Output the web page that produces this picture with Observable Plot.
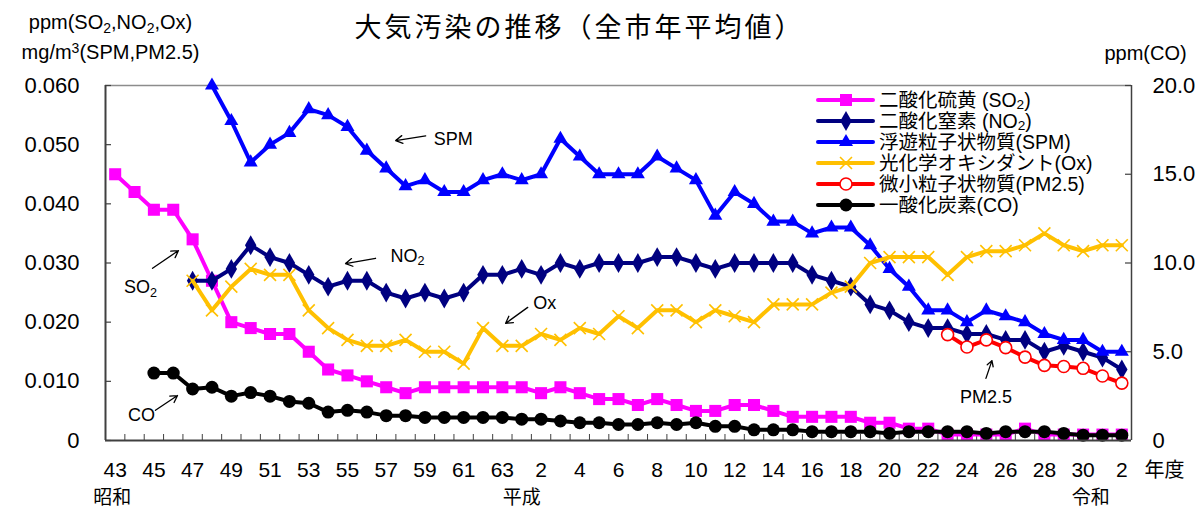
<!DOCTYPE html>
<html><head><meta charset="utf-8">
<script src="https://cdn.jsdelivr.net/npm/d3@7"></script>
<script src="https://cdn.jsdelivr.net/npm/@observablehq/plot@0.6"></script>
<style>body{margin:0;background:#fff}#chart{width:1202px;height:508px}</style>
</head><body><div id="chart"></div>
<script>
// ---- data ----
const yearLabels = ["43","44","45","46","47","48","49","50","51","52","53","54","55","56","57","58","59","60","61","62","63",
  "元","2","3","4","5","6","7","8","9","10","11","12","13","14","15","16","17","18","19","20","21","22","23","24","25","26","27","28","29","30",
  "元","2"];
const eraLabels = [{text:"昭和", i:-0.15}, {text:"平成", i:21}, {text:"令和", i:50.4}];
const unitLabel = "年度";

// start = index into yearLabels of the first value
const so2 = [0.045,0.042,0.039,0.039,0.034,0.027,0.020,0.019,0.018,0.018,
  0.015,0.012,0.011,0.010,0.009,0.008,0.009,0.009,0.009,0.009,
  0.009,0.009,0.008,0.009,0.008,0.007,0.007,0.006,0.007,0.006,
  0.005,0.005,0.006,0.006,0.005,0.004,0.004,0.004,0.004,0.003,
  0.003,0.002,0.002,0.001,0.001,0.001,0.001,0.002,0.001,0.001,
  0.001,0.001,0.001];
const so2Start = 0;
const no2 = [0.027,0.027,0.029,0.033,0.031,0.030,
  0.028,0.026,0.027,0.027,0.025,0.024,0.025,0.024,0.025,0.028,
  0.028,0.029,0.028,0.030,0.029,0.030,0.030,0.030,0.031,0.031,
  0.030,0.029,0.030,0.030,0.030,0.030,0.028,0.027,0.026,0.023,
  0.022,0.020,0.019,0.019,0.018,0.018,0.017,0.017,0.015,0.016,
  0.015,0.014,0.012];
const no2Start = 4;
const spm = [0.060,0.054,0.047,0.050,0.052,
  0.056,0.055,0.053,0.049,0.046,0.043,0.044,0.042,0.042,0.044,
  0.045,0.044,0.045,0.051,0.048,0.045,0.045,0.045,0.048,0.046,
  0.044,0.038,0.042,0.040,0.037,0.037,0.035,0.036,0.036,0.033,
  0.029,0.026,0.022,0.022,0.020,0.022,0.021,0.020,0.018,0.017,
  0.017,0.015,0.015];
const spmStart = 5;
const ox = [0.027,0.022,0.026,0.029,0.028,0.028,
  0.022,0.019,0.017,0.016,0.016,0.017,0.015,0.015,0.013,0.019,
  0.016,0.016,0.018,0.017,0.019,0.018,0.021,0.019,0.022,0.022,
  0.020,0.022,0.021,0.020,0.023,0.023,0.023,0.025,0.026,0.030,
  0.031,0.031,0.031,0.028,0.031,0.032,0.032,0.033,0.035,0.033,
  0.032,0.033,0.033];
const oxStart = 4;
const pm25 = [0.0179,0.0158,0.0170,0.0157,0.0141,0.0127,0.0125,0.0122,0.0109,0.0097];
const pm25Start = 43;
const co = [3.8,3.8,2.9,3.0,2.5,2.7,2.5,2.2,
  2.1,1.6,1.7,1.6,1.4,1.4,1.3,1.3,1.3,1.3,
  1.3,1.2,1.2,1.1,1.0,1.0,0.9,0.9,1.0,0.9,
  1.0,0.8,0.8,0.6,0.6,0.6,0.5,0.5,0.5,0.5,
  0.4,0.5,0.5,0.5,0.5,0.4,0.5,0.5,0.5,0.4,
  0.3,0.3,0.3];
const coStart = 2;

const seriesNames = ["二酸化硫黄 (SO₂)","二酸化窒素 (NO₂)","浮遊粒子状物質(SPM)","光化学オキシダント(Ox)","微小粒子状物質(PM2.5)","一酸化炭素(CO)"];
const leftTicks = [0,0.01,0.02,0.03,0.04,0.05,0.06];
const rightTicks = [0,5,10,15,20];   // ppm(CO)
const leftMax = 0.06, rightMax = 20;

const titleText = "大気汚染の推移（全市年平均値）";
const leftTitle1 = "ppm(SO₂,NO₂,Ox)";
const leftTitle2 = "mg/m³(SPM,PM2.5)";
const rightTitle = "ppm(CO)";

// annotations in data space (x index, left-axis value)
const notes = [
  {text:"SPM", x:17.46, y:0.0510, ax1:16.04, ay1:0.0515, ax2:14.49, ay2:0.0507},
  {text:"NO₂", x:15.1, y:0.0312, ax1:13.45, ay1:0.0308, ax2:11.9, ay2:0.0299},
  {text:"SO₂", x:1.31, y:0.0259, ax1:1.93, ay1:0.0291, ax2:3.27, ay2:0.0321},
  {text:"CO", x:1.36, y:0.0042, ax1:2.08, ay1:0.0051, ax2:3.22, ay2:0.0076},
  {text:"Ox", x:22.19, y:0.0232, ax1:21.31, ay1:0.0225, ax2:20.17, ay2:0.0198},
  {text:"PM2.5", x:44.98, y:0.0073, ax1:44.98, ay1:0.0105, ax2:45.29, ay2:0.0135}
];

// ---- build ----
const coFactor = leftMax / rightMax;
const W = 1202, H = 508, mL = 105, mR = 71, mT = 85, mB = 68;
const frameW = W - mL - mR, frameH = H - mT - mB;
const FONT = '"Liberation Sans", Arial, "Noto Sans CJK JP", sans-serif';

const defs = [
  {values: so2, start: so2Start, color:"#FF00FF", symbol:"square", r:6.8, fill:"#FF00FF", stroke:"none", sw:0},
  {values: no2, start: no2Start, color:"#000080", symbol:"diamond", r:6, fill:"#000080", stroke:"none", sw:0},
  {values: spm, start: spmStart, color:"#0000FF", symbol:"triangle", r:5.2, fill:"#0000FF", stroke:"none", sw:0},
  {values: ox, start: oxStart, color:"#FFC000", symbol:"times", r:5.5, fill:"none", stroke:"#FFC000", sw:1.6},
  {values: pm25, start: pm25Start, color:"#FF0000", symbol:"circle", r:6, fill:"white", stroke:"#FF0000", sw:1.6},
  {values: co, start: coStart, color:"#000000", symbol:"circle", r:6.5, fill:"#000000", stroke:"none", sw:0, scale: coFactor}
];

const seriesMarks = [];
defs.forEach(d => {
  const data = d.values.map((v, k) => ({i: d.start + k, v: d.scale ? v * d.scale : v}));
  seriesMarks.push(Plot.line(data, {x:"i", y:"v", stroke:d.color, strokeWidth:4, strokeLinejoin:"round"}));
  seriesMarks.push(Plot.dot(data, {x:"i", y:"v", symbol:d.symbol, r:d.r, fill:d.fill, stroke:d.stroke, strokeWidth:d.sw}));
});

const evenIdx = yearLabels.map((_, i) => i).filter(i => i % 2 === 0);
const boundaries = yearLabels.slice(1).map((_, i) => i + 0.5);

const plot = Plot.plot({
  width: W, height: H,
  marginLeft: mL, marginRight: mR, marginTop: mT, marginBottom: mB,
  x: {domain: [-0.5, yearLabels.length - 0.5]},
  y: {domain: [0, leftMax]},
  style: {fontFamily: FONT, background: "white", color: "black"},
  marks: [
    // frame
    Plot.ruleY([leftMax], {stroke:"#8c8c8c", strokeWidth:1.5}),
    Plot.ruleX([-0.5], {stroke:"#404040", strokeWidth:2}),
    Plot.ruleX([yearLabels.length - 0.5], {stroke:"#404040", strokeWidth:1.5}),
    // inward ticks
    Plot.tickY(leftTicks, {y: d => d, insetRight: frameW - 6, stroke:"#404040", strokeWidth:1.2}),
    Plot.tickY(rightTicks.map(t => t * coFactor), {y: d => d, insetLeft: frameW - 6, stroke:"#404040", strokeWidth:1.2}),
    Plot.tickX(boundaries, {x: d => d, insetTop: frameH - 6, stroke:"#404040", strokeWidth:1}),
    // axes labels
    Plot.axisY({anchor:"left", ticks: leftTicks, tickSize:0, tickPadding:26, fontSize:22,
      tickFormat: d => d === 0 ? "0" : d.toFixed(3), label:null}),
    Plot.axisY({anchor:"right", ticks: rightTicks.map(t => t * coFactor), tickSize:0, tickPadding:21, fontSize:22,
      tickFormat: d => d === 0 ? "0" : (d / coFactor).toFixed(1), label:null}),
    Plot.axisX({anchor:"bottom", ticks: evenIdx, tickSize:0, tickPadding:22, fontSize:21,
      tickFormat: i => yearLabels[i], label:null}),
    Plot.text(eraLabels, {x:"i", text:"text", frameAnchor:"bottom", lineAnchor:"middle", dy:57, fontSize:19}),
    Plot.text([unitLabel], {x: () => 54.2, text: d => d, frameAnchor:"bottom", lineAnchor:"middle", dy:30, fontSize:20}),
    // titles
    Plot.text([titleText], {text: d => d, frameAnchor:"top", lineAnchor:"middle", dx:-39, dy:-57, fontSize:27, fontFamily:'"Noto Sans CJK JP", sans-serif'}),
    Plot.text([leftTitle1], {text: d => d, frameAnchor:"top-left", textAnchor:"middle", lineAnchor:"middle", dx:5, dy:-63, fontSize:20}),
    Plot.text([leftTitle2], {text: d => d, frameAnchor:"top-left", textAnchor:"middle", lineAnchor:"middle", dx:5, dy:-33, fontSize:20}),
    Plot.text([rightTitle], {text: d => d, frameAnchor:"top-right", textAnchor:"middle", lineAnchor:"middle", dx:14, dy:-32, fontSize:20}),
    // series
    ...seriesMarks,
    Plot.ruleY([0], {stroke:"#404040", strokeWidth:2}),
    // annotations
    Plot.arrow(notes, {x1:"ax1", y1:"ay1", x2:"ax2", y2:"ay2", stroke:"black", strokeWidth:1.3, headLength:9, headAngle:60}),
    Plot.text(notes, {x:"x", y:"y", text:"text", fontSize:18, fill:"black"})
  ]
});

document.getElementById("chart").appendChild(plot);
const svg = d3.select(plot);
// title letter spacing
svg.selectAll("text").each(function(){
  if (this.textContent === titleText) d3.select(this).attr("letter-spacing", 3);
});

// legend
const symMap = {square: d3.symbolSquare, diamond: d3.symbolDiamond, triangle: d3.symbolTriangle, times: d3.symbolTimes, circle: d3.symbolCircle};
const lg = svg.append("g").attr("class","legend").attr("text-anchor","start");
seriesNames.forEach((name, k) => {
  const d = defs[k];
  const y = 100 + 21 * k;
  lg.append("line").attr("x1", 818).attr("x2", 873).attr("y1", y).attr("y2", y)
    .attr("stroke", d.color).attr("stroke-width", 4).attr("stroke-linecap","round");
  lg.append("path").attr("transform", `translate(846,${y})`)
    .attr("d", d3.symbol(symMap[d.symbol], Math.PI * d.r * d.r)())
    .attr("fill", d.fill).attr("stroke", d.stroke === "none" ? null : d.stroke).attr("stroke-width", d.sw || null);
  lg.append("text").attr("class","lgtext").attr("x", 879).attr("y", y).attr("dy", "0.36em").attr("text-anchor","start")
    .attr("font-size", 19.5).attr("font-family", FONT).text(name);
});

// subscripts / superscripts
svg.selectAll("text").each(function(){
  const el = this;
  const subShift = el.getAttribute("class") === "lgtext" ? 0.15 : 0.3;
  if (el.querySelector("tspan")) {
    el.querySelectorAll("tspan").forEach(t => rich(t, subShift));
  } else rich(el, subShift);
});
function rich(node, subShift){
  const s = node.textContent;
  if (!/[₂³]/.test(s)) return;
  node.textContent = "";
  const parts = s.split(/([₂³])/);
  let shift = 0;
  parts.forEach(p => {
    if (!p) return;
    const t = document.createElementNS("http://www.w3.org/2000/svg", "tspan");
    if (p === "₂" || p === "³") {
      const dy = p === "₂" ? subShift : -0.4;
      t.setAttribute("font-size", "70%");
      t.setAttribute("dy", (dy - shift) + "em");
      shift = dy;
      t.textContent = p === "₂" ? "2" : "3";
    } else {
      if (shift !== 0) { t.setAttribute("dy", (-shift * 0.7) + "em"); shift = 0; }
      t.textContent = p;
    }
    node.appendChild(t);
  });
}
</script>
</body></html>
